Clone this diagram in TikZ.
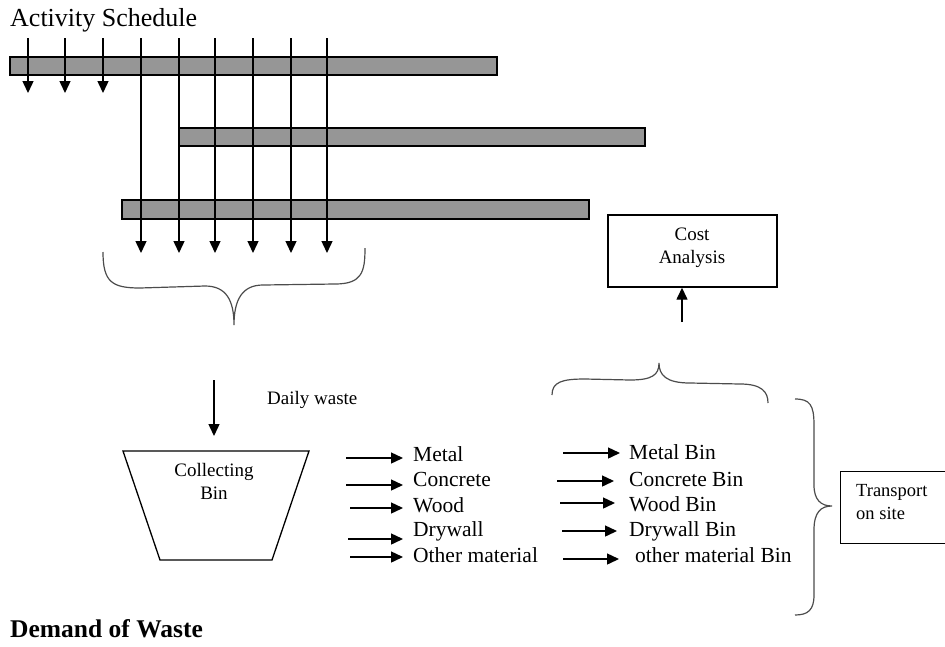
\documentclass[tikz,border=0pt]{standalone}
\usepackage{fontspec}
\setmainfont{Liberation Serif}
\usetikzlibrary{arrows.meta}
\definecolor{barfill}{RGB}{150,150,150}
\begin{document}
\begin{tikzpicture}[x=1pt,y=-1pt,
  arr/.style={-{Triangle[width=11pt,length=12pt]}, line width=1.4pt},
  barbox/.style={draw, line width=1.6pt, fill=barfill},
  lbl/.style={anchor=base west, inner sep=0pt, font=\fontsize{21.5}{24}\selectfont},
  ctr/.style={anchor=base, inner sep=0pt, font=\fontsize{19}{22}\selectfont},
  brc/.style={line width=1.2pt, draw=black!70},
  boxn/.style={draw, line width=1.4pt, inner sep=0pt}]
\useasboundingbox (0,0) rectangle (945,646);

\node[lbl, font=\fontsize{26}{28}\selectfont] (title) at (10,26) {Activity Schedule};

% bars
\draw[barbox] (10,57) rectangle (497,75);
\draw[barbox] (179,128) rectangle (645,146);
\draw[barbox] (122,200) rectangle (589,219);

% short arrows
\foreach \i/\x in {1/28,2/65,3/103}{
  \coordinate (s\i) at (\x,38);
  \coordinate (se\i) at (\x,93);
  \draw[arr] (s\i) -- (se\i);
}
% long arrows
\foreach \i/\x in {1/141,2/179,3/215,4/253,5/291,6/327}{
  \coordinate (l\i) at (\x,38);
  \coordinate (le\i) at (\x,253);
  \draw[arr] (l\i) -- (le\i);
}

% brace under arrows
\draw[brc] (103,252) .. controls (103,282) and (112,288) .. (140,288)
  -- (205,286) .. controls (226,286) and (234,300) .. (234,325)
  .. controls (234,300) and (242,285) .. (263,285)
  -- (335,284) .. controls (362,284) and (365,272) .. (365,248);

% daily waste
\coordinate (dw1) at (214,380);
\coordinate (dw2) at (214,436);
\draw[arr] (dw1) -- (dw2);
\node[lbl, font=\fontsize{19}{21}\selectfont] (daily) at (267,404) {Daily waste};

% collecting bin
\coordinate (binA) at (123,451);
\coordinate (binB) at (309,451);
\coordinate (binC) at (272,560);
\coordinate (binD) at (160,560);
\draw[line width=1.3pt] (binA) -- (binB) -- (binC) -- (binD) -- cycle;
\node[ctr] (coll) at (214,476) {Collecting};
\node[ctr] (binlbl) at (214,499) {Bin};

% materials
\foreach \i/\t/\y/\xs/\ay in {1/Metal/461/346/458,2/Concrete/486/346/485,3/Wood/512/350/508,4/Drywall/536/348/539,5/Other material/562/350/557}{
  \node[lbl] (m\i) at (413,\y) {\t};
  \coordinate (ms\i) at (\xs,\ay);
  \coordinate (me\i) at (403,\ay);
  \draw[arr] (ms\i) -- (me\i);
}

% bins
\foreach \i/\t/\y/\xs/\xe/\ay/\xl in {1/Metal Bin/459/563/620/453/629,2/Concrete Bin/486/557/614/481/629,3/Wood Bin/511/560/615/503/629,4/Drywall Bin/536/562/617/531/629,5/other material Bin/562/563/619/559/635}{
  \node[lbl] (b\i) at (\xl,\y) {\t};
  \coordinate (bs\i) at (\xs,\ay);
  \coordinate (be\i) at (\xe,\ay);
  \draw[arr] (bs\i) -- (be\i);
}

% cost analysis
\node[boxn, minimum width=169pt, minimum height=72pt] (cost) at (692.5,251) {};
\node[ctr] (costt) at (692,240) {Cost};
\node[ctr] (costa) at (692,263) {Analysis};
\coordinate (ca) at (682,322);
\draw[arr] (ca) -- (ca |- cost.south);

% brace above bins
\draw[brc] (552,395) .. controls (552,382) and (562,379) .. (585,379)
  -- (630,380) .. controls (652,380) and (659,375) .. (659,363)
  .. controls (659,375) and (666,383) .. (690,383)
  -- (740,384) .. controls (762,384) and (768,392) .. (768,403);

% right brace
\draw[brc] (795,399) .. controls (810,399) and (814,405) .. (814,425)
  -- (814,485) .. controls (814,500) and (821,506) .. (832,506)
  .. controls (821,506) and (814,512) .. (814,530)
  -- (814,595) .. controls (814,610) and (808,615) .. (795,615);

% transport
\node[boxn, minimum width=112pt, minimum height=72pt, anchor=north west] (trans) at (840,471) {};
\node[lbl, font=\fontsize{18.5}{20}\selectfont] (tr1) at (856,496) {Transport};
\node[lbl, font=\fontsize{18.5}{20}\selectfont] (tr2) at (856,519) {on site};

\node[lbl, font=\bfseries\fontsize{25.5}{28}\selectfont] (demand) at (10,637) {Demand of Waste};
\end{tikzpicture}
\end{document}
